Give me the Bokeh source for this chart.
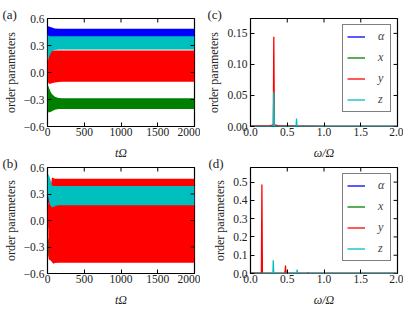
import math
from bokeh.plotting import figure
from bokeh.layouts import column, row
from bokeh.models import FixedTicker, Title, Legend, LegendItem, Range1d
from bokeh.embed import file_html
from bokeh.resources import INLINE

# ---------------- data ----------------
colors = {"alpha": "#0000ff", "x": "#008000", "y": "#ff0000", "z": "#00bfbf"}
names = ["alpha", "x", "y", "z"]
legend_labels = ["α", "x", "y", "z"]

# (a) time series envelopes
ta = [0, 5, 10, 20, 40, 60, 100, 150, 200, 2000]
a_alpha_hi = [0.50, 0.515, 0.515, 0.51, 0.505, 0.50, 0.49, 0.486, 0.485, 0.485]
a_alpha_lo = [0.38, 0.38, 0.38, 0.38, 0.38, 0.38, 0.38, 0.38, 0.38, 0.38]
a_x_hi = [-0.12, -0.14, -0.15, -0.17, -0.21, -0.24, -0.27, -0.283, -0.285, -0.285]
a_x_lo = [-0.38, -0.43, -0.44, -0.445, -0.44, -0.43, -0.415, -0.406, -0.405, -0.405]
a_y_hi = [0.15, 0.21, 0.225, 0.235, 0.24, 0.243, 0.245, 0.245, 0.245, 0.245]
a_y_lo = [0.05, -0.08, -0.115, -0.125, -0.125, -0.12, -0.11, -0.105, -0.102, -0.102]
a_z_hi = [0.45, 0.42, 0.41, 0.405, 0.403, 0.403, 0.403, 0.403, 0.403, 0.403]
a_z_lo = [0.15, 0.13, 0.14, 0.17, 0.21, 0.235, 0.25, 0.255, 0.256, 0.256]

# (b) time series envelopes
tb = [0, 10, 15, 20, 30, 40, 50, 60, 80, 100, 150, 2000]
b_alpha_hi = [0.30, 0.30, 0.30, 0.30, 0.30, 0.30, 0.30, 0.30, 0.30, 0.30, 0.30, 0.30]
b_alpha_lo = [0.20, 0.20, 0.20, 0.20, 0.20, 0.20, 0.20, 0.20, 0.20, 0.20, 0.20, 0.20]
b_x_hi = [-0.15, -0.2, -0.21, -0.22, -0.24, -0.25, -0.25, -0.25, -0.25, -0.25, -0.25, -0.25]
b_x_lo = [-0.3, -0.4, -0.41, -0.42, -0.41, -0.4, -0.4, -0.4, -0.4, -0.4, -0.4, -0.4]
b_y_hi = [0.1, 0.2, 0.3, 0.33, 0.36, 0.40, 0.42, 0.486, 0.48, 0.474, 0.474, 0.474]
b_y_lo = [0.0, -0.1, -0.43, -0.44, -0.45, -0.45, -0.46, -0.47, -0.49, -0.482, -0.478, -0.478]
b_z_hi = [0.48, 0.52, 0.52, 0.51, 0.49, 0.46, 0.43, 0.40, 0.39, 0.39, 0.39, 0.39]
b_z_lo = [0.3, 0.27, 0.25, 0.22, 0.19, 0.17, 0.16, 0.15, 0.15, 0.165, 0.172, 0.174]

# (c) spectra
c_w_alpha = [0.0, 0.30, 0.317, 0.33, 2.0]
c_alpha = [0.0, 0.0, 0.002, 0.0, 0.0]
c_w_x = [0.0, 0.30, 0.317, 0.33, 2.0]
c_x = [0.0, 0.0, 0.002, 0.0, 0.0]
c_w_y = [0.0, 0.25, 0.30, 0.31, 0.317, 0.325, 0.34, 0.40, 0.62, 0.626, 0.635, 1.0, 2.0]
c_y = [0.001, 0.001, 0.002, 0.003, 0.1445, 0.003, 0.002, 0.001, 0.001, 0.002, 0.001, 0.0, 0.0]
c_w_z = [0.0, 0.31, 0.317, 0.325, 0.62, 0.626, 0.633, 0.95, 2.0]
c_z = [0.0, 0.0, 0.0558, 0.0, 0.0, 0.013, 0.0, 0.0, 0.0]

# (d) spectra
d_w_alpha = [0.0, 0.148, 0.155, 0.162, 2.0]
d_alpha = [0.0, 0.0, 0.012, 0.0, 0.0]
d_w_x = [0.0, 0.47, 0.476, 0.483, 2.0]
d_x = [0.0, 0.0, 0.018, 0.0, 0.0]
d_w_y = [0.0, 0.148, 0.155, 0.162, 0.47, 0.476, 0.483, 0.78, 0.785, 0.79, 2.0]
d_y = [0.002, 0.002, 0.487, 0.002, 0.0, 0.044, 0.0, 0.0, 0.005, 0.0, 0.0]
d_w_z = [0.0, 0.305, 0.31, 0.316, 0.628, 0.635, 0.641, 0.935, 0.94, 0.945, 2.0]
d_z = [0.0, 0.0, 0.073, 0.0, 0.0, 0.022, 0.0, 0.0, 0.003, 0.0, 0.0]

# ticks
t_ticks = [0, 500, 1000, 1500, 2000]
t_tick_labels = ["0", "500", "1000", "1500", "2000"]
op_ticks = [-0.6, -0.3, 0.0, 0.3, 0.6]
op_tick_labels = ["\u22120.6", "\u22120.3", "0.0", "0.3", "0.6"]
w_ticks = [0.0, 0.5, 1.0, 1.5, 2.0]
w_tick_labels = ["0.0", "0.5", "1.0", "1.5", "2.0"]
c_ticks = [0.0, 0.05, 0.10, 0.15]
c_tick_labels = ["0.00", "0.05", "0.10", "0.15"]
d_ticks = [0.0, 0.1, 0.2, 0.3, 0.4, 0.5]
d_tick_labels = ["0.0", "0.1", "0.2", "0.3", "0.4", "0.5"]

FONT = "Liberation Serif"
FS = "11.5px"


def make_fig(fh, bt, bb, bl, br, xr, yr, xt, xtl, yt, ytl, xlabel):
    p = figure(frame_width=147, frame_height=fh, min_border_top=bt, min_border_bottom=bb,
               min_border_left=bl, min_border_right=br, x_range=Range1d(*xr), y_range=Range1d(*yr),
               output_backend="svg", toolbar_location=None)
    p.grid.visible = False
    p.outline_line_color = "black"
    p.outline_line_width = 1.2
    p.background_fill_color = "white"
    p.border_fill_color = None
    for ax, ticks, labels in ((p.xaxis[0], xt, xtl), (p.yaxis[0], yt, ytl)):
        ax.ticker = FixedTicker(ticks=ticks)
        ax.major_label_overrides = {k: v for k, v in zip(ticks, labels)}
        ax.major_tick_in = 4
        ax.major_tick_out = 0
        ax.minor_tick_line_color = None
        ax.axis_line_color = None
        ax.major_tick_line_color = "black"
        ax.major_label_text_font = FONT
        ax.major_label_text_font_size = FS
        ax.major_label_text_color = "#222222"
        ax.axis_label_text_font = FONT
        ax.axis_label_text_font_size = "12px"
        ax.axis_label_text_color = "#222222"
    p.xaxis.axis_label = xlabel
    p.xaxis.axis_label_text_font_style = "italic"
    p.xaxis.major_label_standoff = 1
    p.xaxis.axis_label_standoff = 7
    p.yaxis.axis_label = "order parameters"
    p.yaxis.axis_label_text_font_style = "normal"
    p.yaxis.major_label_standoff = 3
    p.yaxis.axis_label_standoff = 3
    return p


def add_frame_ticks(p, xr, yr, xt, yt):
    # inward ticks on the top and right edges of the frame
    p.ray(x=xt, y=[yr[1]] * len(xt), length=4, length_units="screen",
          angle=-math.pi / 2, line_color="black", line_width=1)
    p.ray(x=[xr[1]] * len(yt), y=yt, length=4, length_units="screen",
          angle=math.pi, line_color="black", line_width=1)


def add_tag(p, tag, offset):
    p.add_layout(Title(text=tag, align="left", offset=offset, standoff=-6,
                       vertical_align="bottom", text_font=FONT, text_font_size="13px",
                       text_font_style="normal", text_color="#222222"), "above")


def add_bands(p, t, bands):
    for n, (lo, hi) in zip(names, bands):
        p.varea(x=t, y1=lo, y2=hi, fill_color=colors[n])


def add_spectra(p, spectra):
    items = []
    for n, lab, (w, a) in zip(names, legend_labels, spectra):
        r = p.line(w, a, line_color=colors[n], line_width=1.3)
        items.append(LegendItem(label=lab, renderers=[r]))
    leg = Legend(items=items, location="top_right", margin=6, padding=4, spacing=6,
                 glyph_width=18, glyph_height=11, label_height=11, label_width=8,
                 label_standoff=13, border_line_color="black", border_line_width=1.2,
                 background_fill_alpha=1.0, label_text_font=FONT,
                 label_text_font_style="italic", label_text_font_size="12px")
    p.add_layout(leg)


pa = make_fig(108, 18, 30, 44, 6, (0, 2000), (-0.6, 0.6), t_ticks, t_tick_labels,
              op_ticks, op_tick_labels, "tΩ")
add_bands(pa, ta, [(a_alpha_lo, a_alpha_hi), (a_x_lo, a_x_hi), (a_y_lo, a_y_hi), (a_z_lo, a_z_hi)])
add_frame_ticks(pa, (0, 2000), (-0.6, 0.6), t_ticks, op_ticks)
add_tag(pa, "(a)", -45)

pc = make_fig(108, 18, 30, 50, 6, (0, 2), (0, 0.174), w_ticks, w_tick_labels,
              c_ticks, c_tick_labels, "ω/Ω")
add_spectra(pc, [(c_w_alpha, c_alpha), (c_w_x, c_x), (c_w_y, c_y), (c_w_z, c_z)])
add_frame_ticks(pc, (0, 2), (0, 0.174), w_ticks, c_ticks)
add_tag(pc, "(c)", -43)

pb = make_fig(106, 12, 30, 44, 6, (0, 2000), (-0.6, 0.6), t_ticks, t_tick_labels,
              op_ticks, op_tick_labels, "tΩ")
add_bands(pb, tb, [(b_alpha_lo, b_alpha_hi), (b_x_lo, b_x_hi), (b_y_lo, b_y_hi), (b_z_lo, b_z_hi)])
add_frame_ticks(pb, (0, 2000), (-0.6, 0.6), t_ticks, op_ticks)
add_tag(pb, "(b)", -45)

pd_ = make_fig(106, 12, 30, 50, 6, (0, 2), (0, 0.58), w_ticks, w_tick_labels,
               d_ticks, d_tick_labels, "ω/Ω")
add_spectra(pd_, [(d_w_alpha, d_alpha), (d_w_x, d_x), (d_w_y, d_y), (d_w_z, d_z)])
add_frame_ticks(pd_, (0, 2), (0, 0.58), w_ticks, d_ticks)
add_tag(pd_, "(d)", -42)

layout = column(row(pa, pc), row(pb, pd_, margin=(-7, 0, 0, 0)))
open("out.html", "w").write(file_html(layout, INLINE))
